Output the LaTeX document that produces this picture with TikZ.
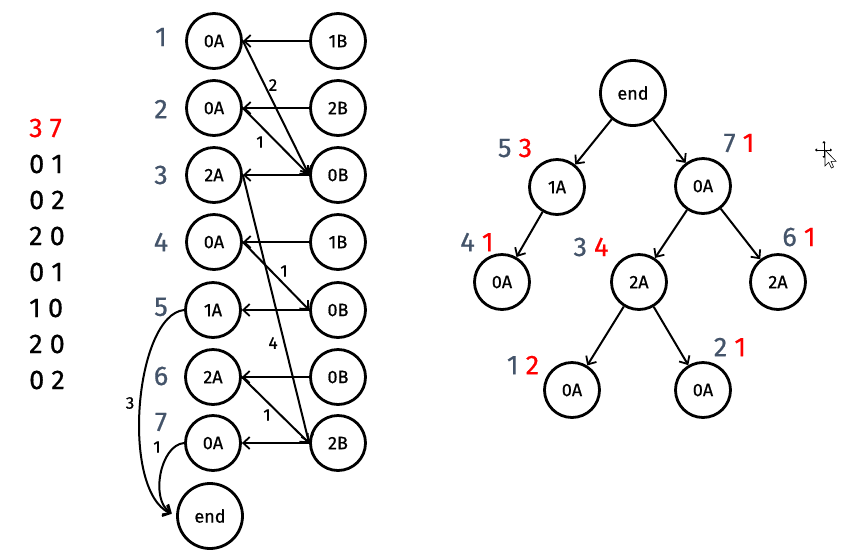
\documentclass[tikz,border=0pt]{standalone}
\usepackage{fontspec}
\setmainfont{Fira Sans}[FakeBold=0.6]
\usetikzlibrary{arrows.meta}
\definecolor{numgray}{HTML}{44546A}
\definecolor{numred}{HTML}{FF0000}
\begin{document}
\begin{tikzpicture}[x=1pt,y=-1pt,
  vtx/.style={circle,draw,line width=2.8pt,minimum size=55pt,inner sep=0pt,font=\fontsize{18}{18}\selectfont},
  bigvtx/.style={vtx,minimum size=65pt},
  arr/.style={line width=2pt,-{Straight Barb[length=6.5pt,width=12pt,line width=1.8pt]}},
  elab/.style={font=\fontsize{17}{17}\selectfont,inner sep=0pt},
  big/.style={font=\fontsize{27}{27}\selectfont,inner sep=0pt},
]
\path[use as bounding box,fill=white] (0,0) rectangle (847,558);

% input list
\node[big,anchor=west,text=numred] (s0) at (29,128) {3 7};
\node[big,anchor=west] (s1) at (29,164) {0 1};
\node[big,anchor=west] (s2) at (29,200) {0 2};
\node[big,anchor=west] (s3) at (29,236) {2 0};
\node[big,anchor=west] (s4) at (29,272) {0 1};
\node[big,anchor=west] (s5) at (29,308) {1 0};
\node[big,anchor=west] (s6) at (29,344) {2 0};
\node[big,anchor=west] (s7) at (29,380) {0 2};

% row numbers
\node[big,text=numgray] (r1) at (161,37) {1};
\node[big,text=numgray] (r2) at (161,109) {2};
\node[big,text=numgray] (r3) at (161,175) {3};
\node[big,text=numgray] (r4) at (161,242) {4};
\node[big,text=numgray] (r5) at (161,307) {5};
\node[big,text=numgray] (r6) at (161,376) {6};
\node[big,text=numgray] (r7) at (161,422) {7};

% left graph nodes
\node[vtx] (a1) at (214,41) {0A};
\node[vtx] (a2) at (214,108) {0A};
\node[vtx] (a3) at (214,175) {2A};
\node[vtx] (a4) at (214,242) {0A};
\node[vtx] (a5) at (213,310) {1A};
\node[vtx] (a6) at (213,377) {2A};
\node[vtx] (a7) at (213,443) {0A};
\node[vtx] (b1) at (338,41) {1B};
\node[vtx] (b2) at (338,108) {2B};
\node[vtx] (b3) at (338,175) {0B};
\node[vtx] (b4) at (338,242) {1B};
\node[vtx] (b5) at (338,310) {0B};
\node[vtx] (b6) at (338,377) {0B};
\node[vtx] (b7) at (338,443) {2B};
\node[bigvtx] (e) at (210,516) {end};

% horizontal arrows
\foreach \i in {1,...,7} { \draw[arr] (b\i) -- (a\i); }

% diagonal arrows
\draw[arr] (a1.east) -- (b3.west);
\draw[arr] (a2.east) -- (b3.west);
\draw[arr] (a3.east) -- (b7.west);
\draw[arr] (a4.east) -- (b5.west);
\draw[arr] (a6.east) -- (b7.west);

% curves to end
\draw[arr,shorten >=5pt] (a5.west) .. controls (135,315) and (120,490) .. (e.west);
\draw[arr,shorten >=5pt] (a7.west) .. controls (160,445) and (150,500) .. (e.west);

% edge labels
\node[elab] (l1) at (273,85) {2};
\node[elab] (l2) at (260,142) {1};
\node[elab] (l3) at (284,271) {1};
\node[elab] (l4) at (273,343) {4};
\node[elab] (l5) at (267,415) {1};
\node[elab] (l6) at (130,403) {3};
\node[elab] (l7) at (157,447) {1};

% tree
\node[bigvtx] (t0) at (633,93) {end};
\node[vtx] (t1) at (557,187) {1A};
\node[vtx] (t2) at (703,186) {0A};
\node[vtx] (t3) at (502,282) {0A};
\node[vtx] (t4) at (639,282) {2A};
\node[vtx] (t5) at (778,282) {2A};
\node[vtx] (t6) at (572,390) {0A};
\node[vtx] (t7) at (703,390) {0A};
\draw[arr] (t0) -- (t1);
\draw[arr] (t0) -- (t2);
\draw[arr] (t1) -- (t3);
\draw[arr] (t2) -- (t4);
\draw[arr] (t2) -- (t5);
\draw[arr] (t4) -- (t6);
\draw[arr] (t4) -- (t7);

% tree labels
\node[big] (p1) at (515,148) {\textcolor{numgray}{5} \textcolor{numred}{3}};
\node[big] (p2) at (739,143) {\textcolor{numgray}{7} \textcolor{numred}{1}};
\node[big] (p3) at (477,242) {\textcolor{numgray}{4} \textcolor{numred}{1}};
\node[big] (p4) at (591,247) {\textcolor{numgray}{3} \textcolor{numred}{4}};
\node[big] (p5) at (799,237) {\textcolor{numgray}{6} \textcolor{numred}{1}};
\node[big] (p6) at (523,365) {\textcolor{numgray}{1} \textcolor{numred}{2}};
\node[big] (p7) at (730,347) {\textcolor{numgray}{2} \textcolor{numred}{1}};

% mouse cursor
\draw[line width=0.9pt,{Triangle[length=2pt,width=3pt]}-{Triangle[length=2pt,width=3pt]}] (815,150) -- (832,150);
\draw[line width=0.9pt,{Triangle[length=2pt,width=3pt]}-{Triangle[length=2pt,width=3pt]}] (824,141) -- (824,158);
\draw[fill=white,line width=0.6pt,shift={(825,150)}] (0,0) -- (0,16) -- (3.7,12.3) -- (6.4,18) -- (8.5,17) -- (6,11.3) -- (11,11.3) -- cycle;
\end{tikzpicture}
\end{document}
